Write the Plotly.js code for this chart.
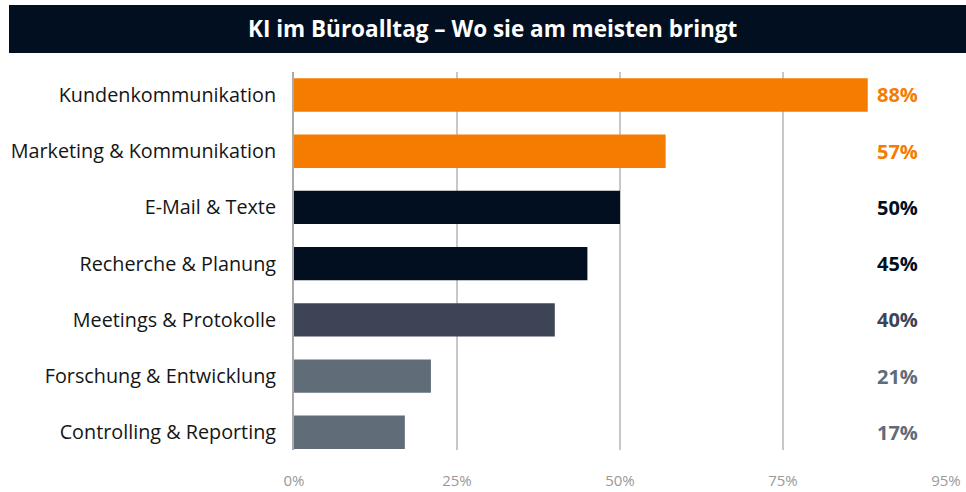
<!DOCTYPE html>
<html>
<head>
<meta charset="utf-8">
<script src="https://cdn.plot.ly/plotly-3.0.1.min.js"></script>
<style>
  html, body { margin: 0; padding: 0; background: #ffffff; }
  #chart { width: 966px; height: 492px; }
</style>
</head>
<body>
<div id="chart"></div>
<script>
const chartTitle = "KI im Büroalltag – Wo sie am meisten bringt";
const categories = [
  "Kundenkommunikation",
  "Marketing & Kommunikation",
  "E-Mail & Texte",
  "Recherche & Planung",
  "Meetings & Protokolle",
  "Forschung & Entwicklung",
  "Controlling & Reporting"
];
const values = [88, 57, 50, 45, 40, 21, 17];
const tickValues = [0, 25, 50, 75, 100];
const tickLabels = ["0%", "25%", "50%", "75%", "95%"];

const barColors = ["#F57C00", "#F57C00", "#020F20", "#020F20", "#3D4455", "#606C78", "#606C78"];
const FONT = "'Open Sans', 'Noto Sans', sans-serif";

const trace = {
  type: "bar",
  orientation: "h",
  y: categories,
  x: values,
  marker: { color: barColors, line: { width: 0 } },
  width: 0.593,
  hoverinfo: "skip"
};

const annotations = categories.map((c, i) => ({
  xref: "x", yref: "y",
  x: 96.0, y: c,
  xanchor: "right", yanchor: "middle",
  text: "<b>" + values[i] + "%</b>",
  showarrow: false,
  font: { family: FONT, size: 20, color: barColors[i] }
}));

const layout = {
  width: 966,
  height: 492,
  margin: { l: 294, r: 20, t: 72, b: 42, pad: 0 },
  paper_bgcolor: "#ffffff",
  plot_bgcolor: "#ffffff",
  showlegend: false,
  title: {
    text: "<b>" + chartTitle + "</b>",
    x: 0.51, xanchor: "center", xref: "container",
    y: 1 - 29 / 492, yanchor: "middle", yref: "container",
    font: { family: FONT, size: 22.5, color: "#ffffff" }
  },
  shapes: [{
    type: "rect", xref: "paper", yref: "paper",
    x0: (9 - 294) / 652, x1: (966 - 294) / 652,
    y0: (450 - 53) / 378, y1: (450 - 5) / 378,
    fillcolor: "#020F20", line: { width: 0 }, layer: "below"
  }],
  xaxis: {
    range: [0, 100],
    autorange: false,
    tickvals: tickValues,
    ticktext: tickLabels,
    showgrid: true,
    gridcolor: "#C8C8C8",
    gridwidth: 1.5,
    zeroline: false,
    showline: false,
    ticks: "",
    ticklabelstandoff: 20,
    tickfont: { family: FONT, size: 15, color: "#999999" },
    fixedrange: true
  },
  yaxis: {
    type: "category",
    range: [6.315, -0.409],
    autorange: false,
    showgrid: false,
    zeroline: false,
    showline: true,
    linecolor: "#AAAAAA",
    linewidth: 2,
    ticks: "",
    ticklabelstandoff: 12,
    tickfont: { family: FONT, size: 19.8, color: "#151515" },
    fixedrange: true
  },
  annotations: annotations,
  bargap: 0.4
};

Plotly.newPlot("chart", [trace], layout, { displayModeBar: false, staticPlot: true });
</script>
</body>
</html>
